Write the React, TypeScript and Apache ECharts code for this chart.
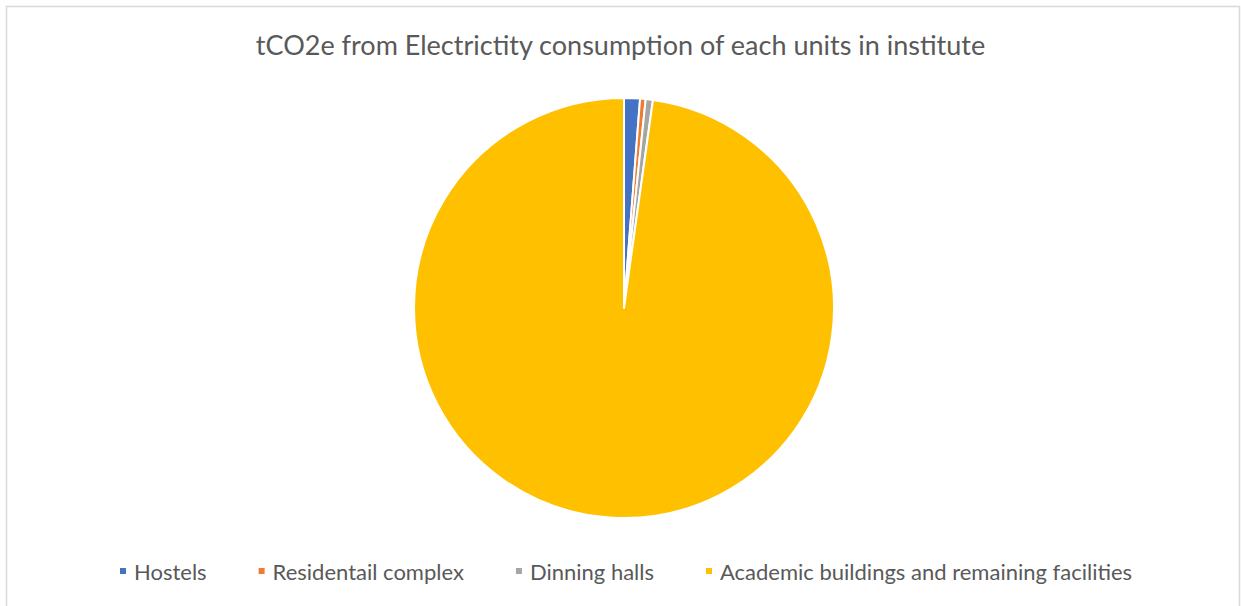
import React, { useEffect, useRef } from "react";
import * as echarts from "echarts";

const categories = [
  "Hostels",
  "Residentail complex",
  "Dinning halls",
  "Academic buildings and remaining facilities",
];
const values = [1.22, 0.43, 0.55, 97.8];
const colors = ["#4472C4", "#ED7D31", "#A5A5A5", "#FFC000"];
const titleText = "tCO2e from Electrictity consumption of each units in institute";

export default function App() {
  const ref = useRef<HTMLDivElement>(null);
  useEffect(() => {
    document.body.style.margin = "0";
    const chart = echarts.init(ref.current!, null, { renderer: "svg" });
    chart.setOption({
      animation: false,
      backgroundColor: "#ffffff",
      title: {
        text: titleText,
        left: "center",
        top: 26,
        textStyle: {
          fontFamily: "Lato",
          fontSize: 27,
          fontWeight: "normal",
          color: "#595959",
        },
      },
      legend: {
        top: 560,
        left: 118,
        padding: 0,
        icon: "rect",
        itemWidth: 8,
        itemHeight: 8,
        itemGap: 50,
        textStyle: {
          fontFamily: "Lato",
          fontSize: 22,
          color: "#595959",
          padding: [0, 0, 0, 2],
        },
        data: categories,
      },
      graphic: [
        {
          type: "rect",
          shape: { x: 6.5, y: 6.5, width: 1233, height: 620 },
          style: { fill: "none", stroke: "#D9D9D9", lineWidth: 1.5 },
          silent: true,
        },
      ],
      series: [
        {
          type: "pie",
          center: [624, 308],
          radius: 210,
          startAngle: 90,
          clockwise: true,
          label: { show: false },
          labelLine: { show: false },
          itemStyle: { borderColor: "#ffffff", borderWidth: 2 },
          emphasis: { disabled: true },
          data: categories.map((name, i) => ({
            name,
            value: values[i],
            itemStyle: { color: colors[i] },
          })),
        },
      ],
    });
    return () => chart.dispose();
  }, []);
  return <div ref={ref} style={{ width: 1241, height: 606 }} />;
}
